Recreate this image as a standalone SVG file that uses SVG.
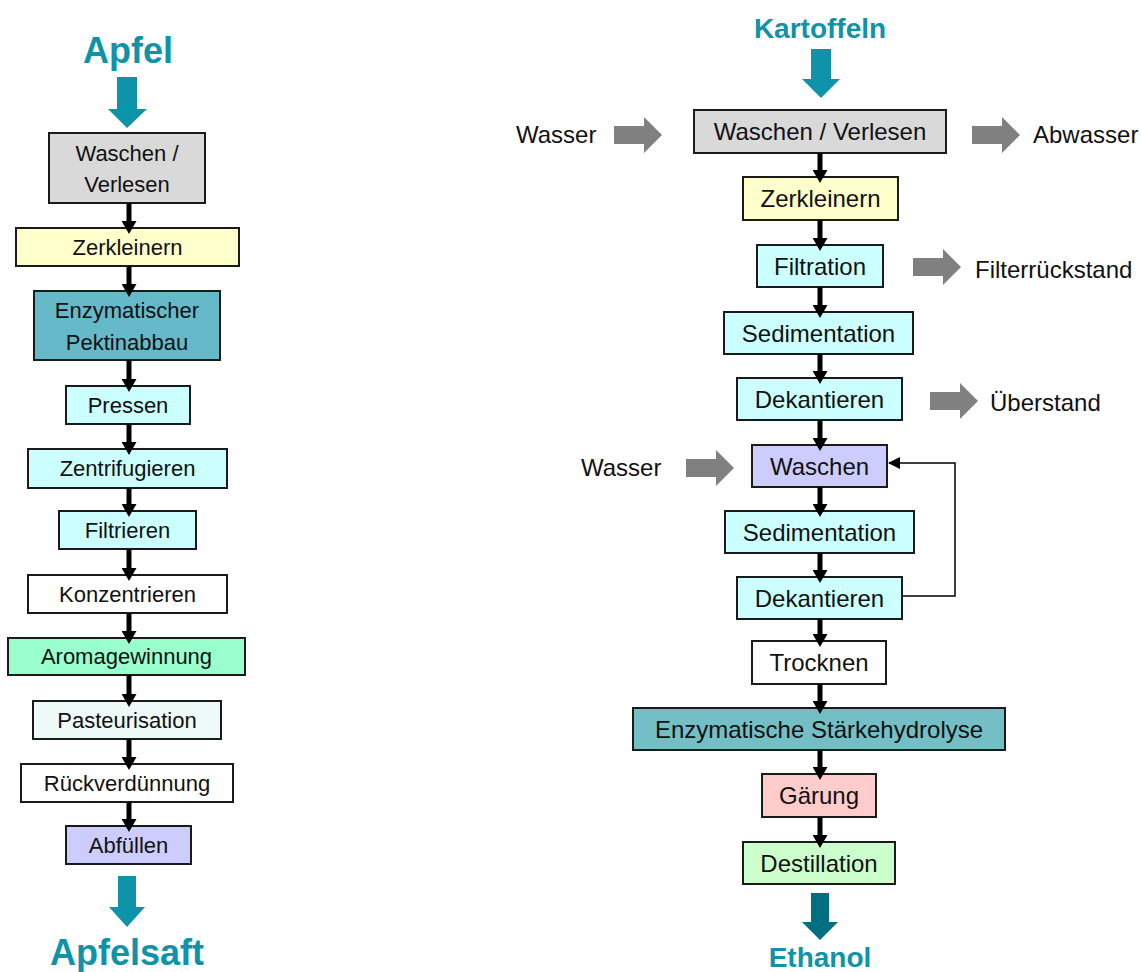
<svg xmlns="http://www.w3.org/2000/svg" width="1141" height="972" viewBox="0 0 1141 972">
<style>
.box{stroke:#1a1a1a;stroke-width:2}
.t{font-family:"Liberation Sans",Arial,sans-serif;fill:#111;text-anchor:middle}
.l{font-size:22px}
.r{font-size:24px}
.side{font-family:"Liberation Sans",Arial,sans-serif;fill:#111;font-size:24px}
.title{font-family:"Liberation Sans",Arial,sans-serif;font-weight:bold;fill:#0e93a8;text-anchor:middle}
.conn{stroke:#000;stroke-width:5;fill:none;marker-end:url(#ah)}
.teal{fill:#0e93a8}
.gray{fill:#808080}
</style>
<defs>
<marker id="ah" markerUnits="userSpaceOnUse" markerWidth="13" markerHeight="15" refX="7" refY="7.5" orient="auto">
<path d="M0,0 L13,7.5 L0,15 z" fill="#000"/>
</marker>
<marker id="ah2" markerUnits="userSpaceOnUse" markerWidth="12" markerHeight="12" refX="11" refY="6" orient="auto">
<path d="M0,0 L12,6 L0,12 z" fill="#000"/>
</marker>
<path id="garrow" d="M0,-9 L30,-9 L30,-18 L48,0 L30,18 L30,9 L0,9 z"/>
</defs>

<!-- Titles and flow arrows -->
<g id="title-apfel">
<text class="title" x="128" y="63" font-size="36">Apfel</text>
<path class="teal" d="M117,77 H137 V109 H147 L127,128 L108,109 H117 Z"/>
</g>
<g id="title-apfelsaft">
<path class="teal" d="M118,876 H136 V907 H145 L127,927 L109,907 H118 Z"/>
<text class="title" x="127" y="965" font-size="36">Apfelsaft</text>
</g>
<g id="title-kartoffeln">
<text class="title" x="820" y="38" font-size="28">Kartoffeln</text>
<path class="teal" d="M811,49 H831 V79 H840 L821,98 L802,79 H811 Z"/>
</g>
<g id="title-ethanol">
<path d="M811,893 H829 V922 H838 L820,940 L802,922 H811 Z" fill="#006f80"/>
<text class="title" x="820" y="967" font-size="28">Ethanol</text>
</g>

<!-- Left column nodes -->
<g id="a1"><rect class="box" x="49" y="133" width="156" height="70" fill="#d9d9d9"/><text class="t l" x="127" y="161">Waschen /</text><text class="t l" x="127" y="192">Verlesen</text></g>
<g id="a2"><rect class="box" x="16" y="228" width="223" height="38" fill="#ffffcc"/><text class="t l" x="127.5" y="255">Zerkleinern</text></g>
<g id="a3"><rect class="box" x="34" y="291" width="186" height="69" fill="#66b9c9"/><text class="t l" x="127" y="318">Enzymatischer</text><text class="t l" x="127" y="350">Pektinabbau</text></g>
<g id="a4"><rect class="box" x="66" y="386" width="124" height="38" fill="#ccffff"/><text class="t l" x="128" y="413">Pressen</text></g>
<g id="a5"><rect class="box" x="28" y="449" width="199" height="39" fill="#ccffff"/><text class="t l" x="127.5" y="476">Zentrifugieren</text></g>
<g id="a6"><rect class="box" x="59" y="511" width="137" height="38" fill="#ccffff"/><text class="t l" x="127.5" y="538">Filtrieren</text></g>
<g id="a7"><rect class="box" x="28" y="575" width="199" height="38" fill="#ffffff"/><text class="t l" x="127.5" y="602">Konzentrieren</text></g>
<g id="a8"><rect class="box" x="8" y="638" width="237" height="37" fill="#99ffcc"/><text class="t l" x="126.5" y="664">Aromagewinnung</text></g>
<g id="a9"><rect class="box" x="33" y="701" width="188" height="38" fill="#eefaf8"/><text class="t l" x="127" y="728">Pasteurisation</text></g>
<g id="a10"><rect class="box" x="21" y="764" width="212" height="38" fill="#ffffff"/><text class="t l" x="127" y="791">Rückverdünnung</text></g>
<g id="a11"><rect class="box" x="66" y="826" width="125" height="38" fill="#ccccff"/><text class="t l" x="128.5" y="853">Abfüllen</text></g>

<!-- Right column nodes -->
<g id="b1"><rect class="box" x="694" y="110" width="252" height="43" fill="#d9d9d9"/><text class="t r" x="820" y="140">Waschen / Verlesen</text></g>
<g id="b2"><rect class="box" x="743" y="177" width="155" height="43" fill="#ffffcc"/><text class="t r" x="820.5" y="207">Zerkleinern</text></g>
<g id="b3"><rect class="box" x="757" y="245" width="126" height="42" fill="#ccffff"/><text class="t r" x="820" y="275">Filtration</text></g>
<g id="b4"><rect class="box" x="724" y="312" width="189" height="42" fill="#ccffff"/><text class="t r" x="818.5" y="342">Sedimentation</text></g>
<g id="b5"><rect class="box" x="737" y="378" width="165" height="42" fill="#ccffff"/><text class="t r" x="819.5" y="408">Dekantieren</text></g>
<g id="b6"><rect class="box" x="752" y="445" width="135" height="42" fill="#ccccff"/><text class="t r" x="819.5" y="475">Waschen</text></g>
<g id="b7"><rect class="box" x="725" y="511" width="189" height="42" fill="#ccffff"/><text class="t r" x="819.5" y="541">Sedimentation</text></g>
<g id="b8"><rect class="box" x="737" y="577" width="165" height="42" fill="#ccffff"/><text class="t r" x="819.5" y="607">Dekantieren</text></g>
<g id="b9"><rect class="box" x="752" y="641" width="134" height="43" fill="#ffffff"/><text class="t r" x="819" y="671">Trocknen</text></g>
<g id="b10"><rect class="box" x="633" y="708" width="372" height="42" fill="#74bfc5"/><text class="t r" x="819" y="738">Enzymatische Stärkehydrolyse</text></g>
<g id="b11"><rect class="box" x="762" y="774" width="114" height="43" fill="#ffcccc"/><text class="t r" x="819" y="804">Gärung</text></g>
<g id="b12"><rect class="box" x="743" y="842" width="152" height="42" fill="#ccffcc"/><text class="t r" x="819" y="872">Destillation</text></g>

<!-- Side streams -->
<g id="s1"><text class="side" x="516" y="143">Wasser</text><use href="#garrow" class="gray" x="614" y="135"/></g>
<g id="s2"><use href="#garrow" class="gray" x="972" y="135"/><text class="side" x="1033" y="143">Abwasser</text></g>
<g id="s3"><use href="#garrow" class="gray" x="913" y="267"/><text class="side" x="975" y="278">Filterrückstand</text></g>
<g id="s4"><use href="#garrow" class="gray" x="930" y="401"/><text class="side" x="990" y="411">Überstand</text></g>
<g id="s5"><text class="side" x="581" y="476">Wasser</text><use href="#garrow" class="gray" x="686" y="468"/></g>

<!-- Connectors -->
<g id="connectors">
<line class="conn" x1="129" y1="203" x2="129" y2="228"/>
<line class="conn" x1="129" y1="266" x2="129" y2="291"/>
<line class="conn" x1="129" y1="360" x2="129" y2="386"/>
<line class="conn" x1="129" y1="424" x2="129" y2="449"/>
<line class="conn" x1="129" y1="488" x2="129" y2="511"/>
<line class="conn" x1="129" y1="549" x2="129" y2="575"/>
<line class="conn" x1="129" y1="613" x2="129" y2="638"/>
<line class="conn" x1="129" y1="675" x2="129" y2="701"/>
<line class="conn" x1="129" y1="739" x2="129" y2="764"/>
<line class="conn" x1="129" y1="802" x2="129" y2="826"/>

<line class="conn" x1="820" y1="153" x2="820" y2="177"/>
<line class="conn" x1="820" y1="220" x2="820" y2="245"/>
<line class="conn" x1="820" y1="287" x2="820" y2="312"/>
<line class="conn" x1="820" y1="354" x2="820" y2="378"/>
<line class="conn" x1="820" y1="420" x2="820" y2="445"/>
<line class="conn" x1="820" y1="487" x2="820" y2="511"/>
<line class="conn" x1="820" y1="553" x2="820" y2="577"/>
<line class="conn" x1="820" y1="619" x2="820" y2="641"/>
<line class="conn" x1="820" y1="684" x2="820" y2="708"/>
<line class="conn" x1="820" y1="750" x2="820" y2="774"/>
<line class="conn" x1="820" y1="817" x2="820" y2="842"/>

<polyline points="902,596 955,596 955,463 889,463" fill="none" stroke="#000" stroke-width="1.5" marker-end="url(#ah2)"/>
</g>
</svg>
